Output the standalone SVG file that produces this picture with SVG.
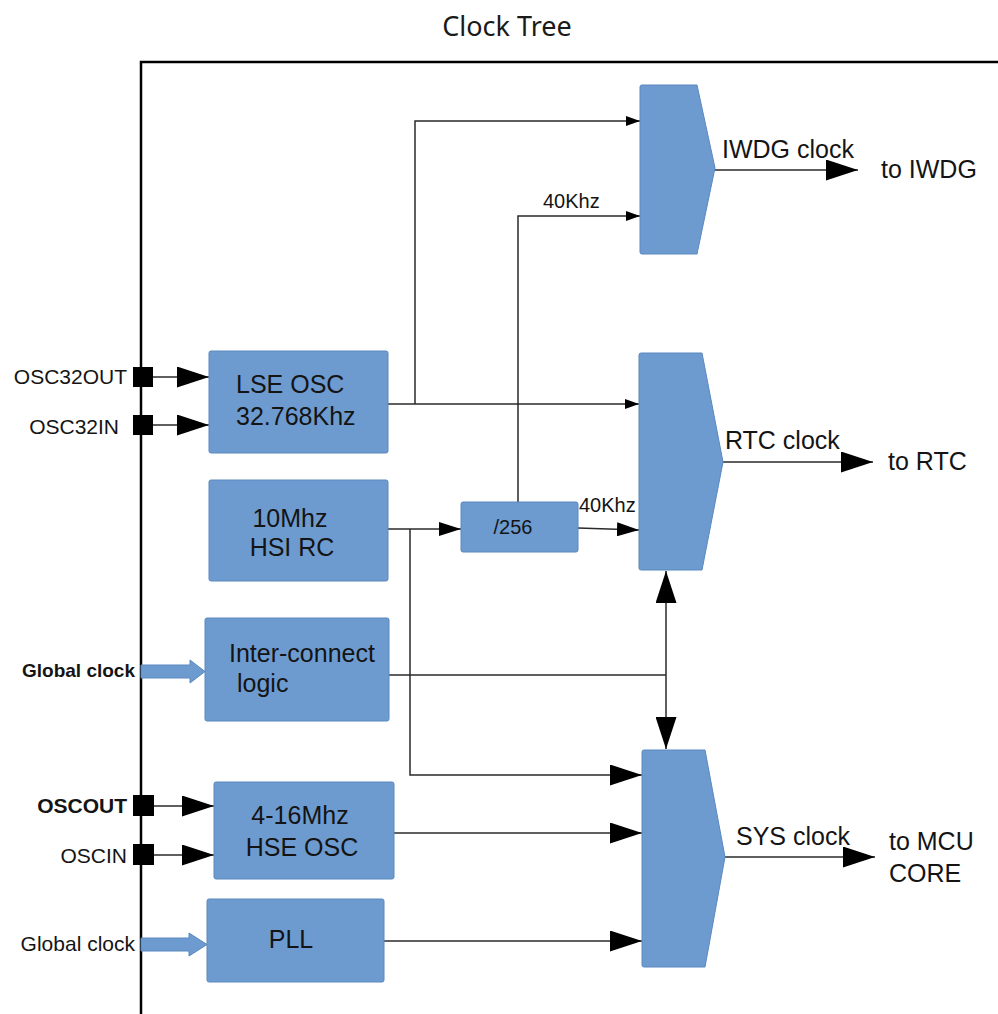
<svg xmlns="http://www.w3.org/2000/svg" width="998" height="1014" viewBox="0 0 998 1014">
<style>
  .blk { fill: #6d9bd0; stroke: #5a88bf; stroke-width: 1; }
  .t { font-family: "Liberation Sans", Arial, sans-serif; fill: #141414; }
  .lbl { font-size: 25px; }
  .pin { font-size: 21px; }
  .sm { font-size: 20px; }
  .w { stroke: #2a2a2a; stroke-width: 1.5; fill: none; }
  .pinsq { fill: #000; }
  .fat { fill: #6d9bd0; stroke: #5a88bf; stroke-width: 1; }
</style>
<defs>
  <marker id="aS" markerUnits="userSpaceOnUse" markerWidth="14" markerHeight="10" refX="14" refY="5" orient="auto">
    <path d="M0,0 L14,5 L0,10 Z" fill="#000"/>
  </marker>
  <marker id="aM" markerUnits="userSpaceOnUse" markerWidth="22" markerHeight="14" refX="22" refY="7" orient="auto">
    <path d="M0,0 L22,7 L0,14 Z" fill="#000"/>
  </marker>
  <marker id="aL" markerUnits="userSpaceOnUse" markerWidth="32" markerHeight="21" refX="32" refY="10.5" orient="auto">
    <path d="M0,0 L32,10.5 L0,21 Z" fill="#000"/>
  </marker>
</defs>
<rect width="998" height="1014" fill="#fff"/>
<text x="507" y="36" text-anchor="middle" font-family="'Noto Sans', 'Open Sans', sans-serif" font-size="27" fill="#1a1a1a">Clock Tree</text>
<!-- frame -->
<path d="M141,1014 V62 H998" stroke="#000" stroke-width="2.5" fill="none"/>

<g id="connectors">
  <path class="w" d="M388,404 H639" marker-end="url(#aS)"/>
  <path class="w" d="M415,404 V121 H640" marker-end="url(#aS)"/>
  <path class="w" d="M518,502 V216 H640" marker-end="url(#aS)"/>
  <path class="w" d="M388,529 H461" marker-end="url(#aM)"/>
  <path class="w" d="M578,528 L639,530" marker-end="url(#aM)"/>
  <path class="w" d="M410,529 V775 H642" marker-end="url(#aL)"/>
  <path class="w" d="M394,833 H642" marker-end="url(#aL)"/>
  <path class="w" d="M384,941 H642" marker-end="url(#aL)"/>
  <path class="w" d="M389,675 H666"/>
  <path class="w" d="M666,675 V571" marker-end="url(#aL)"/>
  <path class="w" d="M666,675 V749" marker-end="url(#aL)"/>
  <path class="w" d="M715,170 H858" marker-end="url(#aL)"/>
  <path class="w" d="M723,462 H873" marker-end="url(#aL)"/>
  <path class="w" d="M725,857 H875" marker-end="url(#aL)"/>
  <path class="w" d="M153,377 H209" marker-end="url(#aL)"/>
  <path class="w" d="M153,425 H209" marker-end="url(#aL)"/>
  <path class="w" d="M154,806 H214" marker-end="url(#aL)"/>
  <path class="w" d="M154,855 H214" marker-end="url(#aL)"/>
</g>

<g id="pins">
  <rect class="pinsq" x="133" y="367" width="20" height="20"/>
  <rect class="pinsq" x="133" y="415" width="20" height="20"/>
  <rect class="pinsq" x="133" y="795" width="21" height="21"/>
  <rect class="pinsq" x="133" y="844" width="21" height="21"/>
  <text class="t pin" x="127" y="384" text-anchor="end">OSC32OUT</text>
  <text class="t pin" x="119" y="434" text-anchor="end">OSC32IN</text>
  <text class="t pin" x="127" y="813" text-anchor="end" font-weight="bold" font-size="20">OSCOUT</text>
  <text class="t pin" x="127" y="863" text-anchor="end">OSCIN</text>
</g>

<g id="global-clock-1">
  <path class="fat" d="M141,665 H190 V660 L205,671.5 L190,683 V678 H141 Z"/>
  <text class="t" x="135" y="677" text-anchor="end" font-size="19" font-weight="bold">Global clock</text>
</g>
<g id="global-clock-2">
  <path class="fat" d="M141,938 H189 V933 L207,944.5 L189,956 V951 H141 Z"/>
  <text class="t pin" x="135" y="951" text-anchor="end">Global clock</text>
</g>

<g id="lse">
  <rect class="blk" x="209" y="351" width="179" height="102" rx="2"/>
  <text class="t lbl" x="236" y="393">LSE OSC</text>
  <text class="t lbl" x="236" y="425">32.768Khz</text>
</g>
<g id="hsi">
  <rect class="blk" x="209" y="480" width="179" height="101" rx="2"/>
  <text class="t lbl" x="290" y="527" text-anchor="middle">10Mhz</text>
  <text class="t lbl" x="292" y="556" text-anchor="middle">HSI RC</text>
</g>
<g id="interconnect">
  <rect class="blk" x="205" y="618" width="184" height="103" rx="2"/>
  <text class="t lbl" x="229" y="662">Inter-connect</text>
  <text class="t lbl" x="237" y="692">logic</text>
</g>
<g id="hse">
  <rect class="blk" x="214" y="782" width="180" height="97" rx="2"/>
  <text class="t lbl" x="300" y="824" text-anchor="middle">4-16Mhz</text>
  <text class="t lbl" x="302" y="856" text-anchor="middle">HSE OSC</text>
</g>
<g id="pll">
  <rect class="blk" x="207" y="899" width="177" height="83" rx="2"/>
  <text class="t lbl" x="291" y="948" text-anchor="middle">PLL</text>
</g>
<g id="div256">
  <rect class="blk" x="461" y="502" width="117" height="50" rx="2"/>
  <text class="t sm" x="513" y="534" text-anchor="middle" font-size="21">/256</text>
</g>
<g id="mux-iwdg">
  <path class="blk" d="M642,85 H697 L715,168 L697,254 H642 Q640,254 640,252 V87 Q640,85 642,85 Z"/>
  <text class="t sm" x="543" y="208">40Khz</text>
  <text class="t lbl" x="722" y="158">IWDG clock</text>
  <text class="t lbl" x="881" y="178">to IWDG</text>
</g>
<g id="mux-rtc">
  <path class="blk" d="M641,353 H702 L723,462 L702,570 H641 Q639,570 639,568 V355 Q639,353 641,353 Z"/>
  <text class="t sm" x="579" y="512">40Khz</text>
  <text class="t lbl" x="725" y="449">RTC clock</text>
  <text class="t lbl" x="888" y="470">to RTC</text>
</g>
<g id="mux-sys">
  <path class="blk" d="M644,750 H705 L725,857 L705,967 H644 Q642,967 642,965 V752 Q642,750 644,750 Z"/>
  <text class="t lbl" x="736" y="845">SYS clock</text>
  <text class="t lbl" x="889" y="850">to MCU</text>
  <text class="t lbl" x="889" y="882">CORE</text>
</g>
</svg>
